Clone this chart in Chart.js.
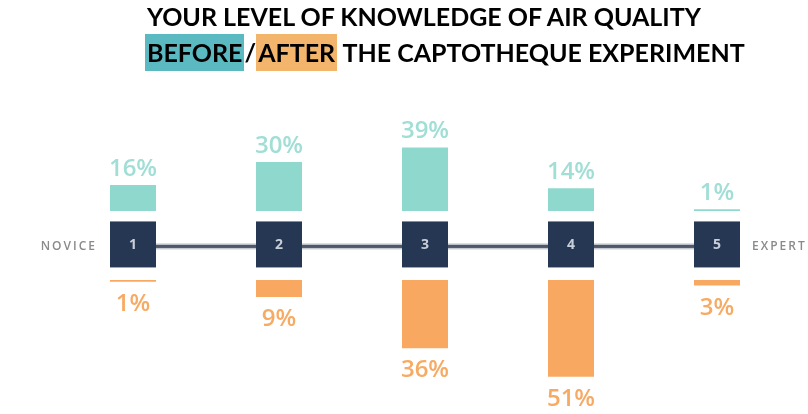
<!DOCTYPE html>
<html>
<head>
<meta charset="utf-8">
<script src="https://cdn.jsdelivr.net/npm/chart.js@4.4.1/dist/chart.umd.min.js"></script>
<style>
  body { margin: 0; background: #fff; }
  #wrap { position: relative; width: 808px; height: 414px; overflow: hidden; }
  #graf { position: absolute; left: 0; top: 0; }
  #titulo {
    position: absolute; left: 147px; top: -1px;
    font-family: Lato, "Liberation Sans", sans-serif; font-weight: 700;
    font-size: 25px; color: #000; white-space: nowrap;
  }
  #titulo .linha { height: 35px; line-height: 35px; }
  .antes, .depois { display: inline-block; height: 37px; line-height: 37px; padding: 0 2px; margin-left: -2px; }
  .antes { background: #5bb9c2; }
  .depois { background: #f3b46b; margin-left: 0; }
</style>
</head>
<body>
<div id="wrap">
  <canvas id="graf" width="808" height="414"></canvas>
  <div id="titulo">
    <div class="linha">YOUR LEVEL OF KNOWLEDGE OF AIR QUALITY</div>
    <div class="linha"><span class="antes">BEFORE</span>/<span class="depois">AFTER</span> THE CAPTOTHEQUE EXPERIMENT</div>
  </div>
</div>
<script>
const niveis = ["1", "2", "3", "4", "5"];
const antes = [16, 30, 39, 14, 1];
const depois = [1, 9, 36, 51, 3];
const extremos = ["NOVICE", "EXPERT"];

const corAntes = "#8fd8ce";
const corDepois = "#f9a861";

// desenha a linha, as caixas dos níveis e os rótulos
const desenhoEscala = {
  id: "desenhoEscala",
  afterDatasetsDraw(chart) {
    const ctx = chart.ctx;
    const x = chart.scales.x;
    const yA = chart.scales.yTop.getPixelForValue(0);
    const yD = chart.scales.yBot.getPixelForValue(0);
    const yMeio = (yA + yD) / 2 + 1;
    const barras = chart.getDatasetMeta(0).data;
    const barrasD = chart.getDatasetMeta(1).data;
    const lado = barras[0].width;

    ctx.save();
    // linha
    const x0 = x.getPixelForValue(0);
    const x1 = x.getPixelForValue(niveis.length - 1);
    ctx.fillStyle = "#c3c7cf";
    ctx.fillRect(x0, yMeio - 3, x1 - x0, 6);
    ctx.fillStyle = "#4f5768";
    ctx.fillRect(x0, yMeio - 1.5, x1 - x0, 3);

    // caixas
    ctx.font = "bold 14px 'Open Sans'";
    ctx.textAlign = "center";
    ctx.textBaseline = "middle";
    niveis.forEach((n, i) => {
      const cx = x.getPixelForValue(i);
      ctx.fillStyle = "#263754";
      ctx.fillRect(cx - lado / 2, yMeio - 2 - lado / 2, lado, lado);
      ctx.fillStyle = "#c9cfd9";
      ctx.fillText(n, cx, yMeio - 1);
    });

    // extremos
    ctx.font = "600 12px 'Open Sans'";
    ctx.letterSpacing = "2px";
    ctx.fillStyle = "#8a8a8a";
    ctx.textAlign = "right";
    ctx.fillText(extremos[0], x0 - lado / 2 - 13, yMeio);
    ctx.textAlign = "left";
    ctx.fillText(extremos[1], x1 + lado / 2 + 12, yMeio);
    ctx.letterSpacing = "0px";

    // percentuais
    ctx.font = "600 24px 'Open Sans'";
    ctx.textAlign = "center";
    ctx.textBaseline = "alphabetic";
    ctx.fillStyle = "#a0ded6";
    barras.forEach((b, i) => ctx.fillText(antes[i] + "%", b.x, b.y - 9));
    ctx.fillStyle = "#f7aa63";
    barrasD.forEach((b, i) => ctx.fillText(depois[i] + "%", b.x, b.y + 29));
    ctx.restore();
  }
};

new Chart(document.getElementById("graf").getContext("2d"), {
  type: "bar",
  data: {
    labels: niveis,
    datasets: [
      {
        label: "Before",
        data: antes,
        yAxisID: "yTop",
        backgroundColor: corAntes,
        grouped: false,
        barPercentage: 0.315,
        categoryPercentage: 1
      },
      {
        label: "After",
        data: depois,
        yAxisID: "yBot",
        backgroundColor: corDepois,
        grouped: false,
        barPercentage: 0.315,
        categoryPercentage: 1
      }
    ]
  },
  options: {
    responsive: false,
    animation: false,
    layout: { padding: { left: 60, right: 18, top: 100, bottom: 4 } },
    plugins: {
      legend: { display: false },
      title: { display: false },
      tooltip: { enabled: false }
    },
    scales: {
      x: { display: false },
      yTop: { display: false, min: -122.1, max: 68.1 },
      yBot: { display: false, reverse: true, min: -94.7, max: 68.5 }
    }
  },
  plugins: [desenhoEscala]
});
</script>
</body>
</html>
